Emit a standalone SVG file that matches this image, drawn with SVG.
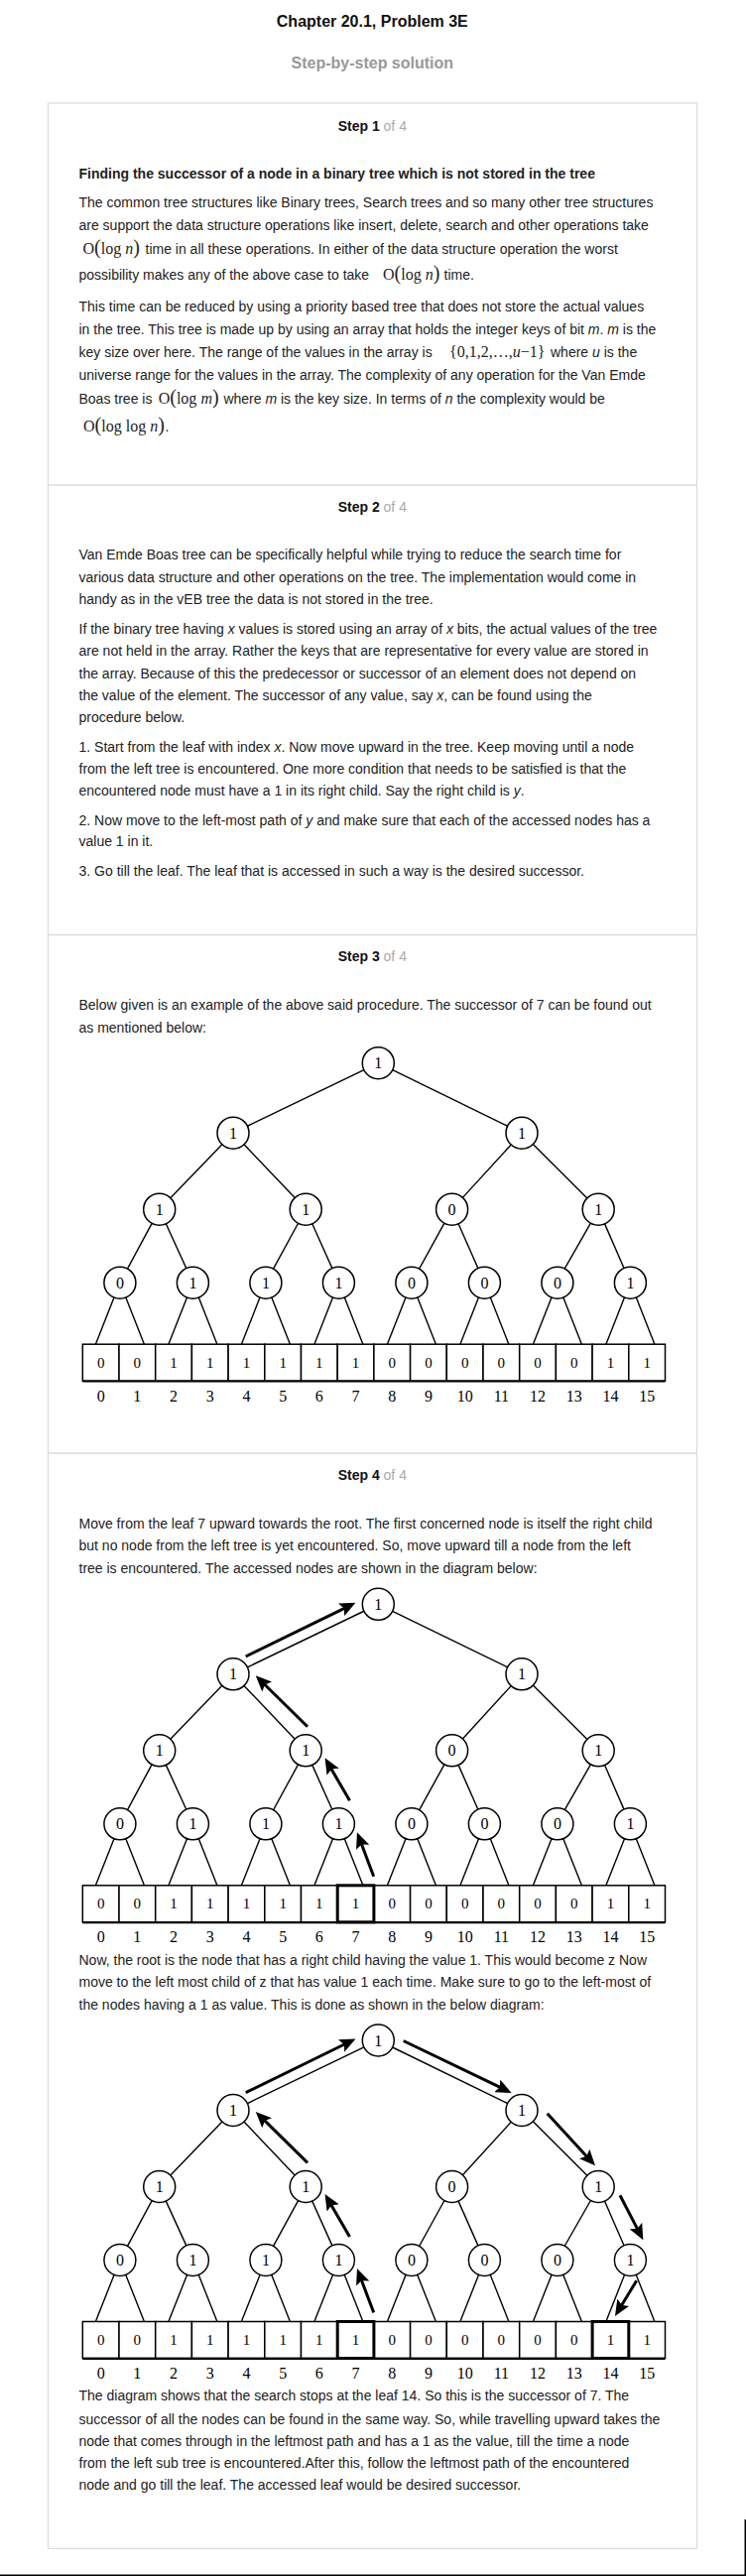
<svg xmlns="http://www.w3.org/2000/svg" width="752" height="2597" viewBox="0 0 752 2597">
<style>
.t{font-family:"Liberation Sans",Arial,sans-serif;font-size:14px;fill:#222}
.b{font-weight:bold}
.g{fill:#aaa;font-weight:normal}
.i{font-style:italic}
.m{font-family:"Liberation Serif","Times New Roman",serif;font-size:16px;fill:#222}
.p{font-size:20px}
.ttl{font-family:"Liberation Sans",Arial,sans-serif;font-size:16px;font-weight:bold;text-anchor:middle}
.hd{font-family:"Liberation Sans",Arial,sans-serif;font-size:14px;text-anchor:middle;fill:#111}
.edge line{stroke:#000;stroke-width:1.4}
.nd circle{fill:#fff;stroke:#000;stroke-width:1.5}
.nd text,.idx text,.cell text{font-family:"Liberation Serif","Times New Roman",serif;font-size:16px;text-anchor:middle;fill:#000}
.cell text{font-size:15px}
.cell rect{fill:#fff;stroke:#000;stroke-width:1.5}
.cell.hl rect{stroke-width:3}
.arr line{stroke:#000;stroke-width:3}
.frame{fill:none;stroke:#dcdcdc;stroke-width:1.3}
</style>
<defs>
<marker id="ah" viewBox="0 0 16 14" refX="4" refY="7" markerWidth="16" markerHeight="14" markerUnits="userSpaceOnUse" orient="auto"><path d="M0,0 L16,7 L0,14 L3,7 z" fill="#000"/></marker>
</defs>
<rect width="752" height="2597" fill="#fff"/>
<text class="ttl" x="375.3" y="27" fill="#111">Chapter 20.1, Problem 3E</text>
<text class="ttl" x="375.3" y="68.5" fill="#999">Step-by-step solution</text>
<rect class="frame" x="48.5" y="104" width="654" height="2465.3"/>
<g id="dividers" stroke="#dcdcdc" stroke-width="1.3">
<line x1="48.5" y1="489" x2="702.5" y2="489"/>
<line x1="48.5" y1="942.5" x2="702.5" y2="942.5"/>
<line x1="48.5" y1="1465" x2="702.5" y2="1465"/>
</g>
<rect x="0" y="2595.5" width="752" height="1.5" fill="#000"/>
<rect x="750.5" y="2540" width="1.5" height="57" fill="#000"/>

<g id="step1">
<text class="hd" x="375.3" y="132"><tspan class="b">Step 1</tspan><tspan class="g"> of 4</tspan></text>
<text class="t b" x="79.5" y="179.5">Finding the successor of a node in a binary tree which is not stored in the tree</text>
<text class="t" x="79.5" y="209.3">The common tree structures like Binary trees, Search trees and so many other tree structures</text>
<text class="t" x="79.5" y="231.5">are support the data structure operations like insert, delete, search and other operations take</text>
<text class="m" x="83.5" y="256">O<tspan class="p">(</tspan>log <tspan class="i">n</tspan><tspan class="p">)</tspan></text>
<text class="t" x="146.5" y="256">time in all these operations. In either of the data structure operation the worst</text>
<text class="t" x="79.5" y="282">possibility makes any of the above case to take</text>
<text class="m" x="386" y="282">O<tspan class="p">(</tspan>log <tspan class="i">n</tspan><tspan class="p">)</tspan></text>
<text class="t" x="447.5" y="282">time.</text>
<text class="t" x="79.5" y="314.2">This time can be reduced by using a priority based tree that does not store the actual values</text>
<text class="t" x="79.5" y="336.9">in the tree. This tree is made up by using an array that holds the integer keys of bit <tspan class="i">m</tspan>. <tspan class="i">m</tspan> is the</text>
<text class="t" x="79.5" y="359.5">key size over here. The range of the values in the array is</text>
<text class="m" x="453" y="359.5" font-size="15">{0,1,2,…,<tspan class="i">u</tspan>−1}</text>
<text class="t" x="555" y="359.5">where <tspan class="i">u</tspan> is the</text>
<text class="t" x="79.5" y="382.5">universe range for the values in the array. The complexity of any operation for the Van Emde</text>
<text class="t" x="79.5" y="406.5">Boas tree is</text>
<text class="m" x="159.7" y="406.5">O<tspan class="p">(</tspan>log <tspan class="i">m</tspan><tspan class="p">)</tspan></text>
<text class="t" x="225.4" y="406.5">where <tspan class="i">m</tspan> is the key size. In terms of <tspan class="i">n</tspan> the complexity would be</text>
<text class="m" x="84" y="435">O<tspan class="p">(</tspan>log log <tspan class="i">n</tspan><tspan class="p">)</tspan></text>
<text class="t" x="166.5" y="435">.</text>
</g>

<g id="step2">
<text class="hd" x="375.3" y="516"><tspan class="b">Step 2</tspan><tspan class="g"> of 4</tspan></text>
<text class="t" x="79.5" y="564.2">Van Emde Boas tree can be specifically helpful while trying to reduce the search time for</text>
<text class="t" x="79.5" y="586.5">various data structure and other operations on the tree. The implementation would come in</text>
<text class="t" x="79.5" y="608.5">handy as in the vEB tree the data is not stored in the tree.</text>
<text class="t" x="79.5" y="638.5">If the binary tree having <tspan class="i">x</tspan> values is stored using an array of <tspan class="i">x</tspan> bits, the actual values of the tree</text>
<text class="t" x="79.5" y="660.5">are not held in the array. Rather the keys that are representative for every value are stored in</text>
<text class="t" x="79.5" y="683.5">the array. Because of this the predecessor or successor of an element does not depend on</text>
<text class="t" x="79.5" y="705.5">the value of the element. The successor of any value, say <tspan class="i">x</tspan>, can be found using the</text>
<text class="t" x="79.5" y="727.5">procedure below.</text>
<text class="t" x="79.5" y="757.5">1. Start from the leaf with index <tspan class="i">x</tspan>. Now move upward in the tree. Keep moving until a node</text>
<text class="t" x="79.5" y="779.5">from the left tree is encountered. One more condition that needs to be satisfied is that the</text>
<text class="t" x="79.5" y="802">encountered node must have a 1 in its right child. Say the right child is <tspan class="i">y</tspan>.</text>
<text class="t" x="79.5" y="831.5">2. Now move to the left-most path of <tspan class="i">y</tspan> and make sure that each of the accessed nodes has a</text>
<text class="t" x="79.5" y="853.2">value 1 in it.</text>
<text class="t" x="79.5" y="883.2">3. Go till the leaf. The leaf that is accessed in such a way is the desired successor.</text>
</g>

<g id="step3">
<text class="hd" x="375.3" y="969"><tspan class="b">Step 3</tspan><tspan class="g"> of 4</tspan></text>
<text class="t" x="79.5" y="1017.5">Below given is an example of the above said procedure. The successor of 7 can be found out</text>
<text class="t" x="79.5" y="1041">as mentioned below:</text>
</g>

<g id="tree1" transform="translate(0,1071.7)">
<g id="tree1-edges" class="edge">
<line x1="366.9" y1="6.95" x2="249.4" y2="63.55"/><line x1="395.7" y1="7" x2="511.6" y2="63.5"/>
<line x1="223.9" y1="82" x2="171.8" y2="136"/><line x1="246" y1="82.1" x2="297.2" y2="135.9"/>
<line x1="515.2" y1="82.3" x2="466.4" y2="135.7"/><line x1="537.3" y1="81.8" x2="591.9" y2="136.2"/>
<line x1="153.1" y1="161.6" x2="128.5" y2="207.4"/><line x1="167.3" y1="162.1" x2="187.8" y2="206.9"/>
<line x1="300.55" y1="161.55" x2="275.55" y2="207.45"/><line x1="314.75" y1="162.1" x2="334.85" y2="206.9"/>
<line x1="447.9" y1="161.5" x2="422.6" y2="207.5"/><line x1="462.1" y1="162.1" x2="481.9" y2="206.9"/>
<line x1="595.4" y1="161.5" x2="569.1" y2="207.5"/><line x1="609.6" y1="162.2" x2="629" y2="206.8"/>
<line x1="115" y1="236.4" x2="96.4" y2="283.5"/><line x1="126.8" y1="236.4" x2="145.4" y2="283.5"/>
<line x1="188.5" y1="236.4" x2="169.9" y2="283.5"/><line x1="200.3" y1="236.4" x2="218.9" y2="283.5"/>
<line x1="262" y1="236.4" x2="243.4" y2="283.5"/><line x1="273.8" y1="236.4" x2="292.4" y2="283.5"/>
<line x1="335.5" y1="236.4" x2="316.9" y2="283.5"/><line x1="347.3" y1="236.4" x2="365.9" y2="283.5"/>
<line x1="409" y1="236.4" x2="390.4" y2="283.5"/><line x1="420.8" y1="236.4" x2="439.4" y2="283.5"/>
<line x1="482.5" y1="236.4" x2="463.9" y2="283.5"/><line x1="494.3" y1="236.4" x2="512.9" y2="283.5"/>
<line x1="556" y1="236.4" x2="537.4" y2="283.5"/><line x1="567.8" y1="236.4" x2="586.4" y2="283.5"/>
<line x1="629.5" y1="236.4" x2="610.9" y2="283.5"/><line x1="641.3" y1="236.4" x2="659.9" y2="283.5"/>
</g>
<g id="tree1-n1" class="nd"><circle cx="381.3" cy="0" r="16"/><text x="381.3" y="5.5">1</text></g>
<g id="tree1-n2" class="nd"><circle cx="235" cy="70.5" r="16"/><text x="235" y="76">1</text></g>
<g id="tree1-n3" class="nd"><circle cx="526" cy="70.5" r="16"/><text x="526" y="76">1</text></g>
<g id="tree1-n4" class="nd"><circle cx="160.7" cy="147.5" r="16"/><text x="160.7" y="153">1</text></g>
<g id="tree1-n5" class="nd"><circle cx="308.2" cy="147.5" r="16"/><text x="308.2" y="153">1</text></g>
<g id="tree1-n6" class="nd"><circle cx="455.6" cy="147.5" r="16"/><text x="455.6" y="153">0</text></g>
<g id="tree1-n7" class="nd"><circle cx="603.2" cy="147.5" r="16"/><text x="603.2" y="153">1</text></g>
<g id="tree1-n8" class="nd"><circle cx="120.9" cy="221.5" r="16"/><text x="120.9" y="227">0</text></g>
<g id="tree1-n9" class="nd"><circle cx="194.4" cy="221.5" r="16"/><text x="194.4" y="227">1</text></g>
<g id="tree1-n10" class="nd"><circle cx="267.9" cy="221.5" r="16"/><text x="267.9" y="227">1</text></g>
<g id="tree1-n11" class="nd"><circle cx="341.4" cy="221.5" r="16"/><text x="341.4" y="227">1</text></g>
<g id="tree1-n12" class="nd"><circle cx="414.9" cy="221.5" r="16"/><text x="414.9" y="227">0</text></g>
<g id="tree1-n13" class="nd"><circle cx="488.4" cy="221.5" r="16"/><text x="488.4" y="227">0</text></g>
<g id="tree1-n14" class="nd"><circle cx="561.9" cy="221.5" r="16"/><text x="561.9" y="227">0</text></g>
<g id="tree1-n15" class="nd"><circle cx="635.4" cy="221.5" r="16"/><text x="635.4" y="227">1</text></g>
<g id="tree1-array">
<g id="tree1-c0" class="cell"><rect x="83.3" y="283.5" width="36.7" height="37"/><text x="101.65" y="307">0</text></g>
<g id="tree1-c1" class="cell"><rect x="120" y="283.5" width="36.7" height="37"/><text x="138.35" y="307">0</text></g>
<g id="tree1-c2" class="cell"><rect x="156.7" y="283.5" width="36.7" height="37"/><text x="175.05" y="307">1</text></g>
<g id="tree1-c3" class="cell"><rect x="193.4" y="283.5" width="36.7" height="37"/><text x="211.75" y="307">1</text></g>
<g id="tree1-c4" class="cell"><rect x="230.1" y="283.5" width="36.7" height="37"/><text x="248.45" y="307">1</text></g>
<g id="tree1-c5" class="cell"><rect x="266.8" y="283.5" width="36.7" height="37"/><text x="285.15" y="307">1</text></g>
<g id="tree1-c6" class="cell"><rect x="303.5" y="283.5" width="36.7" height="37"/><text x="321.85" y="307">1</text></g>
<g id="tree1-c7" class="cell"><rect x="340.2" y="283.5" width="36.7" height="37"/><text x="358.55" y="307">1</text></g>
<g id="tree1-c8" class="cell"><rect x="376.9" y="283.5" width="36.7" height="37"/><text x="395.25" y="307">0</text></g>
<g id="tree1-c9" class="cell"><rect x="413.6" y="283.5" width="36.7" height="37"/><text x="431.95" y="307">0</text></g>
<g id="tree1-c10" class="cell"><rect x="450.3" y="283.5" width="36.7" height="37"/><text x="468.65" y="307">0</text></g>
<g id="tree1-c11" class="cell"><rect x="487" y="283.5" width="36.7" height="37"/><text x="505.35" y="307">0</text></g>
<g id="tree1-c12" class="cell"><rect x="523.7" y="283.5" width="36.7" height="37"/><text x="542.05" y="307">0</text></g>
<g id="tree1-c13" class="cell"><rect x="560.4" y="283.5" width="36.7" height="37"/><text x="578.75" y="307">0</text></g>
<g id="tree1-c14" class="cell"><rect x="597.1" y="283.5" width="36.7" height="37"/><text x="615.45" y="307">1</text></g>
<g id="tree1-c15" class="cell"><rect x="633.8" y="283.5" width="36.7" height="37"/><text x="652.15" y="307">1</text></g>
<line x1="83.3" y1="320.8" x2="670.5" y2="320.8" stroke="#000" stroke-width="2.2"/>
</g>
<g id="tree1-idx" class="idx">
<text x="101.65" y="341">0</text><text x="138.35" y="341">1</text><text x="175.05" y="341">2</text><text x="211.75" y="341">3</text>
<text x="248.45" y="341">4</text><text x="285.15" y="341">5</text><text x="321.85" y="341">6</text><text x="358.55" y="341">7</text>
<text x="395.25" y="341">8</text><text x="431.95" y="341">9</text><text x="468.65" y="341">10</text><text x="505.35" y="341">11</text>
<text x="542.05" y="341">12</text><text x="578.75" y="341">13</text><text x="615.45" y="341">14</text><text x="652.15" y="341">15</text>
</g>
</g>

<g id="step4">
<text class="hd" x="375.3" y="1492"><tspan class="b">Step 4</tspan><tspan class="g"> of 4</tspan></text>
<text class="t" x="79.5" y="1540.5">Move from the leaf 7 upward towards the root. The first concerned node is itself the right child</text>
<text class="t" x="79.5" y="1563">but no node from the left tree is yet encountered. So, move upward till a node from the left</text>
<text class="t" x="79.5" y="1585.5">tree is encountered. The accessed nodes are shown in the diagram below:</text>
<text class="t" x="79.5" y="1980.5">Now, the root is the node that has a right child having the value 1. This would become z Now</text>
<text class="t" x="79.5" y="2003">move to the left most child of z that has value 1 each time. Make sure to go to the left-most of</text>
<text class="t" x="79.5" y="2025.5">the nodes having a 1 as value. This is done as shown in the below diagram:</text>
<text class="t" x="79.5" y="2420.3">The diagram shows that the search stops at the leaf 14. So this is the successor of 7. The</text>
<text class="t" x="79.5" y="2443.5">successor of all the nodes can be found in the same way. So, while travelling upward takes the</text>
<text class="t" x="79.5" y="2465.5">node that comes through in the leftmost path and has a 1 as the value, till the time a node</text>
<text class="t" x="79.5" y="2488.3">from the left sub tree is encountered.After this, follow the leftmost path of the encountered</text>
<text class="t" x="79.5" y="2510.4">node and go till the leaf. The accessed leaf would be desired successor.</text>
</g>

<g id="tree2" transform="translate(0,1617.3)">
<g id="tree2-edges" class="edge">
<line x1="366.9" y1="6.95" x2="249.4" y2="63.55"/><line x1="395.7" y1="7" x2="511.6" y2="63.5"/>
<line x1="223.9" y1="82" x2="171.8" y2="136"/><line x1="246" y1="82.1" x2="297.2" y2="135.9"/>
<line x1="515.2" y1="82.3" x2="466.4" y2="135.7"/><line x1="537.3" y1="81.8" x2="591.9" y2="136.2"/>
<line x1="153.1" y1="161.6" x2="128.5" y2="207.4"/><line x1="167.3" y1="162.1" x2="187.8" y2="206.9"/>
<line x1="300.55" y1="161.55" x2="275.55" y2="207.45"/><line x1="314.75" y1="162.1" x2="334.85" y2="206.9"/>
<line x1="447.9" y1="161.5" x2="422.6" y2="207.5"/><line x1="462.1" y1="162.1" x2="481.9" y2="206.9"/>
<line x1="595.4" y1="161.5" x2="569.1" y2="207.5"/><line x1="609.6" y1="162.2" x2="629" y2="206.8"/>
<line x1="115" y1="236.4" x2="96.4" y2="283.5"/><line x1="126.8" y1="236.4" x2="145.4" y2="283.5"/>
<line x1="188.5" y1="236.4" x2="169.9" y2="283.5"/><line x1="200.3" y1="236.4" x2="218.9" y2="283.5"/>
<line x1="262" y1="236.4" x2="243.4" y2="283.5"/><line x1="273.8" y1="236.4" x2="292.4" y2="283.5"/>
<line x1="335.5" y1="236.4" x2="316.9" y2="283.5"/><line x1="347.3" y1="236.4" x2="365.9" y2="283.5"/>
<line x1="409" y1="236.4" x2="390.4" y2="283.5"/><line x1="420.8" y1="236.4" x2="439.4" y2="283.5"/>
<line x1="482.5" y1="236.4" x2="463.9" y2="283.5"/><line x1="494.3" y1="236.4" x2="512.9" y2="283.5"/>
<line x1="556" y1="236.4" x2="537.4" y2="283.5"/><line x1="567.8" y1="236.4" x2="586.4" y2="283.5"/>
<line x1="629.5" y1="236.4" x2="610.9" y2="283.5"/><line x1="641.3" y1="236.4" x2="659.9" y2="283.5"/>
</g>
<g id="tree2-arrows" class="arr">
<line x1="247.7" y1="52.7" x2="347.7" y2="3.77" marker-end="url(#ah)"/>
<line x1="310" y1="123.4" x2="266.3" y2="80.4" marker-end="url(#ah)"/>
<line x1="352.5" y1="198" x2="333.6" y2="165.4" marker-end="url(#ah)"/>
<line x1="376.7" y1="274.4" x2="364.2" y2="241.2" marker-end="url(#ah)"/>
</g>
<g id="tree2-n1" class="nd"><circle cx="381.3" cy="0" r="16"/><text x="381.3" y="5.5">1</text></g>
<g id="tree2-n2" class="nd"><circle cx="235" cy="70.5" r="16"/><text x="235" y="76">1</text></g>
<g id="tree2-n3" class="nd"><circle cx="526" cy="70.5" r="16"/><text x="526" y="76">1</text></g>
<g id="tree2-n4" class="nd"><circle cx="160.7" cy="147.5" r="16"/><text x="160.7" y="153">1</text></g>
<g id="tree2-n5" class="nd"><circle cx="308.2" cy="147.5" r="16"/><text x="308.2" y="153">1</text></g>
<g id="tree2-n6" class="nd"><circle cx="455.6" cy="147.5" r="16"/><text x="455.6" y="153">0</text></g>
<g id="tree2-n7" class="nd"><circle cx="603.2" cy="147.5" r="16"/><text x="603.2" y="153">1</text></g>
<g id="tree2-n8" class="nd"><circle cx="120.9" cy="221.5" r="16"/><text x="120.9" y="227">0</text></g>
<g id="tree2-n9" class="nd"><circle cx="194.4" cy="221.5" r="16"/><text x="194.4" y="227">1</text></g>
<g id="tree2-n10" class="nd"><circle cx="267.9" cy="221.5" r="16"/><text x="267.9" y="227">1</text></g>
<g id="tree2-n11" class="nd"><circle cx="341.4" cy="221.5" r="16"/><text x="341.4" y="227">1</text></g>
<g id="tree2-n12" class="nd"><circle cx="414.9" cy="221.5" r="16"/><text x="414.9" y="227">0</text></g>
<g id="tree2-n13" class="nd"><circle cx="488.4" cy="221.5" r="16"/><text x="488.4" y="227">0</text></g>
<g id="tree2-n14" class="nd"><circle cx="561.9" cy="221.5" r="16"/><text x="561.9" y="227">0</text></g>
<g id="tree2-n15" class="nd"><circle cx="635.4" cy="221.5" r="16"/><text x="635.4" y="227">1</text></g>
<g id="tree2-array">
<g id="tree2-c0" class="cell"><rect x="83.3" y="283.5" width="36.7" height="37"/><text x="101.65" y="307">0</text></g>
<g id="tree2-c1" class="cell"><rect x="120" y="283.5" width="36.7" height="37"/><text x="138.35" y="307">0</text></g>
<g id="tree2-c2" class="cell"><rect x="156.7" y="283.5" width="36.7" height="37"/><text x="175.05" y="307">1</text></g>
<g id="tree2-c3" class="cell"><rect x="193.4" y="283.5" width="36.7" height="37"/><text x="211.75" y="307">1</text></g>
<g id="tree2-c4" class="cell"><rect x="230.1" y="283.5" width="36.7" height="37"/><text x="248.45" y="307">1</text></g>
<g id="tree2-c5" class="cell"><rect x="266.8" y="283.5" width="36.7" height="37"/><text x="285.15" y="307">1</text></g>
<g id="tree2-c6" class="cell"><rect x="303.5" y="283.5" width="36.7" height="37"/><text x="321.85" y="307">1</text></g>
<g id="tree2-c8" class="cell"><rect x="376.9" y="283.5" width="36.7" height="37"/><text x="395.25" y="307">0</text></g>
<g id="tree2-c9" class="cell"><rect x="413.6" y="283.5" width="36.7" height="37"/><text x="431.95" y="307">0</text></g>
<g id="tree2-c10" class="cell"><rect x="450.3" y="283.5" width="36.7" height="37"/><text x="468.65" y="307">0</text></g>
<g id="tree2-c11" class="cell"><rect x="487" y="283.5" width="36.7" height="37"/><text x="505.35" y="307">0</text></g>
<g id="tree2-c12" class="cell"><rect x="523.7" y="283.5" width="36.7" height="37"/><text x="542.05" y="307">0</text></g>
<g id="tree2-c13" class="cell"><rect x="560.4" y="283.5" width="36.7" height="37"/><text x="578.75" y="307">0</text></g>
<g id="tree2-c14" class="cell"><rect x="597.1" y="283.5" width="36.7" height="37"/><text x="615.45" y="307">1</text></g>
<g id="tree2-c15" class="cell"><rect x="633.8" y="283.5" width="36.7" height="37"/><text x="652.15" y="307">1</text></g>
<line x1="83.3" y1="320.8" x2="670.5" y2="320.8" stroke="#000" stroke-width="2.2"/>
<g id="tree2-c7" class="cell hl"><rect x="340.2" y="283.5" width="36.7" height="37"/><text x="358.55" y="307">1</text></g>
</g>
<g id="tree2-idx" class="idx">
<text x="101.65" y="341">0</text><text x="138.35" y="341">1</text><text x="175.05" y="341">2</text><text x="211.75" y="341">3</text>
<text x="248.45" y="341">4</text><text x="285.15" y="341">5</text><text x="321.85" y="341">6</text><text x="358.55" y="341">7</text>
<text x="395.25" y="341">8</text><text x="431.95" y="341">9</text><text x="468.65" y="341">10</text><text x="505.35" y="341">11</text>
<text x="542.05" y="341">12</text><text x="578.75" y="341">13</text><text x="615.45" y="341">14</text><text x="652.15" y="341">15</text>
</g>
</g>

<g id="tree3" transform="translate(0,2057)">
<g id="tree3-edges" class="edge">
<line x1="366.9" y1="6.95" x2="249.4" y2="63.55"/><line x1="395.7" y1="7" x2="511.6" y2="63.5"/>
<line x1="223.9" y1="82" x2="171.8" y2="136"/><line x1="246" y1="82.1" x2="297.2" y2="135.9"/>
<line x1="515.2" y1="82.3" x2="466.4" y2="135.7"/><line x1="537.3" y1="81.8" x2="591.9" y2="136.2"/>
<line x1="153.1" y1="161.6" x2="128.5" y2="207.4"/><line x1="167.3" y1="162.1" x2="187.8" y2="206.9"/>
<line x1="300.55" y1="161.55" x2="275.55" y2="207.45"/><line x1="314.75" y1="162.1" x2="334.85" y2="206.9"/>
<line x1="447.9" y1="161.5" x2="422.6" y2="207.5"/><line x1="462.1" y1="162.1" x2="481.9" y2="206.9"/>
<line x1="595.4" y1="161.5" x2="569.1" y2="207.5"/><line x1="609.6" y1="162.2" x2="629" y2="206.8"/>
<line x1="115" y1="236.4" x2="96.4" y2="283.5"/><line x1="126.8" y1="236.4" x2="145.4" y2="283.5"/>
<line x1="188.5" y1="236.4" x2="169.9" y2="283.5"/><line x1="200.3" y1="236.4" x2="218.9" y2="283.5"/>
<line x1="262" y1="236.4" x2="243.4" y2="283.5"/><line x1="273.8" y1="236.4" x2="292.4" y2="283.5"/>
<line x1="335.5" y1="236.4" x2="316.9" y2="283.5"/><line x1="347.3" y1="236.4" x2="365.9" y2="283.5"/>
<line x1="409" y1="236.4" x2="390.4" y2="283.5"/><line x1="420.8" y1="236.4" x2="439.4" y2="283.5"/>
<line x1="482.5" y1="236.4" x2="463.9" y2="283.5"/><line x1="494.3" y1="236.4" x2="512.9" y2="283.5"/>
<line x1="556" y1="236.4" x2="537.4" y2="283.5"/><line x1="567.8" y1="236.4" x2="586.4" y2="283.5"/>
<line x1="629.5" y1="236.4" x2="610.9" y2="283.5"/><line x1="641.3" y1="236.4" x2="659.9" y2="283.5"/>
</g>
<g id="tree3-arrows" class="arr">
<line x1="247.7" y1="52.7" x2="347.7" y2="3.77" marker-end="url(#ah)"/>
<line x1="310" y1="123.4" x2="266.3" y2="80.4" marker-end="url(#ah)"/>
<line x1="352.5" y1="198" x2="333.6" y2="165.4" marker-end="url(#ah)"/>
<line x1="376.7" y1="274.4" x2="364.2" y2="241.2" marker-end="url(#ah)"/>
<line x1="406.7" y1="0.5" x2="504.8" y2="47.7" marker-end="url(#ah)"/>
<line x1="551.7" y1="73.7" x2="591.9" y2="117.5" marker-end="url(#ah)"/>
<line x1="625" y1="156.3" x2="642.8" y2="190.6" marker-end="url(#ah)"/>
<line x1="641.7" y1="242.3" x2="626.2" y2="267.7" marker-end="url(#ah)"/>
</g>
<g id="tree3-n1" class="nd"><circle cx="381.3" cy="0" r="16"/><text x="381.3" y="5.5">1</text></g>
<g id="tree3-n2" class="nd"><circle cx="235" cy="70.5" r="16"/><text x="235" y="76">1</text></g>
<g id="tree3-n3" class="nd"><circle cx="526" cy="70.5" r="16"/><text x="526" y="76">1</text></g>
<g id="tree3-n4" class="nd"><circle cx="160.7" cy="147.5" r="16"/><text x="160.7" y="153">1</text></g>
<g id="tree3-n5" class="nd"><circle cx="308.2" cy="147.5" r="16"/><text x="308.2" y="153">1</text></g>
<g id="tree3-n6" class="nd"><circle cx="455.6" cy="147.5" r="16"/><text x="455.6" y="153">0</text></g>
<g id="tree3-n7" class="nd"><circle cx="603.2" cy="147.5" r="16"/><text x="603.2" y="153">1</text></g>
<g id="tree3-n8" class="nd"><circle cx="120.9" cy="221.5" r="16"/><text x="120.9" y="227">0</text></g>
<g id="tree3-n9" class="nd"><circle cx="194.4" cy="221.5" r="16"/><text x="194.4" y="227">1</text></g>
<g id="tree3-n10" class="nd"><circle cx="267.9" cy="221.5" r="16"/><text x="267.9" y="227">1</text></g>
<g id="tree3-n11" class="nd"><circle cx="341.4" cy="221.5" r="16"/><text x="341.4" y="227">1</text></g>
<g id="tree3-n12" class="nd"><circle cx="414.9" cy="221.5" r="16"/><text x="414.9" y="227">0</text></g>
<g id="tree3-n13" class="nd"><circle cx="488.4" cy="221.5" r="16"/><text x="488.4" y="227">0</text></g>
<g id="tree3-n14" class="nd"><circle cx="561.9" cy="221.5" r="16"/><text x="561.9" y="227">0</text></g>
<g id="tree3-n15" class="nd"><circle cx="635.4" cy="221.5" r="16"/><text x="635.4" y="227">1</text></g>
<g id="tree3-array">
<g id="tree3-c0" class="cell"><rect x="83.3" y="283.5" width="36.7" height="37"/><text x="101.65" y="307">0</text></g>
<g id="tree3-c1" class="cell"><rect x="120" y="283.5" width="36.7" height="37"/><text x="138.35" y="307">0</text></g>
<g id="tree3-c2" class="cell"><rect x="156.7" y="283.5" width="36.7" height="37"/><text x="175.05" y="307">1</text></g>
<g id="tree3-c3" class="cell"><rect x="193.4" y="283.5" width="36.7" height="37"/><text x="211.75" y="307">1</text></g>
<g id="tree3-c4" class="cell"><rect x="230.1" y="283.5" width="36.7" height="37"/><text x="248.45" y="307">1</text></g>
<g id="tree3-c5" class="cell"><rect x="266.8" y="283.5" width="36.7" height="37"/><text x="285.15" y="307">1</text></g>
<g id="tree3-c6" class="cell"><rect x="303.5" y="283.5" width="36.7" height="37"/><text x="321.85" y="307">1</text></g>
<g id="tree3-c8" class="cell"><rect x="376.9" y="283.5" width="36.7" height="37"/><text x="395.25" y="307">0</text></g>
<g id="tree3-c9" class="cell"><rect x="413.6" y="283.5" width="36.7" height="37"/><text x="431.95" y="307">0</text></g>
<g id="tree3-c10" class="cell"><rect x="450.3" y="283.5" width="36.7" height="37"/><text x="468.65" y="307">0</text></g>
<g id="tree3-c11" class="cell"><rect x="487" y="283.5" width="36.7" height="37"/><text x="505.35" y="307">0</text></g>
<g id="tree3-c12" class="cell"><rect x="523.7" y="283.5" width="36.7" height="37"/><text x="542.05" y="307">0</text></g>
<g id="tree3-c13" class="cell"><rect x="560.4" y="283.5" width="36.7" height="37"/><text x="578.75" y="307">0</text></g>
<g id="tree3-c15" class="cell"><rect x="633.8" y="283.5" width="36.7" height="37"/><text x="652.15" y="307">1</text></g>
<line x1="83.3" y1="320.8" x2="670.5" y2="320.8" stroke="#000" stroke-width="2.2"/>
<g id="tree3-c7" class="cell hl"><rect x="340.2" y="283.5" width="36.7" height="37"/><text x="358.55" y="307">1</text></g>
<g id="tree3-c14" class="cell hl"><rect x="597.1" y="283.5" width="36.7" height="37"/><text x="615.45" y="307">1</text></g>
</g>
<g id="tree3-idx" class="idx">
<text x="101.65" y="341">0</text><text x="138.35" y="341">1</text><text x="175.05" y="341">2</text><text x="211.75" y="341">3</text>
<text x="248.45" y="341">4</text><text x="285.15" y="341">5</text><text x="321.85" y="341">6</text><text x="358.55" y="341">7</text>
<text x="395.25" y="341">8</text><text x="431.95" y="341">9</text><text x="468.65" y="341">10</text><text x="505.35" y="341">11</text>
<text x="542.05" y="341">12</text><text x="578.75" y="341">13</text><text x="615.45" y="341">14</text><text x="652.15" y="341">15</text>
</g>
</g>
</svg>
